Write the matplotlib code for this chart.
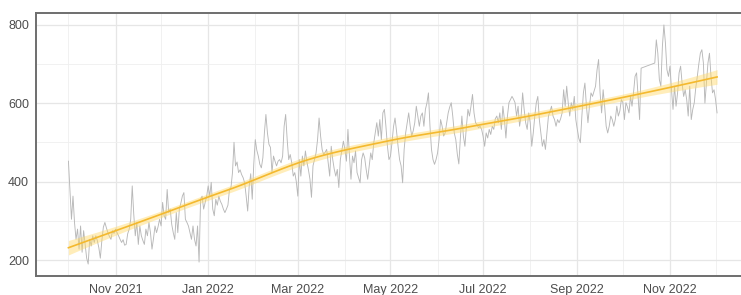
import numpy as np
import pandas as pd
import matplotlib
matplotlib.use("Agg")
import matplotlib.pyplot as plt
import matplotlib.dates as mdates
from matplotlib.ticker import MultipleLocator

plt.rcParams['font.family'] = ['Liberation Sans', 'DejaVu Sans']

START = "2021-10-01"
nan = np.nan
oct21 = [452, 380, 304, 363, 296, 253, 279, 228, 287, 220, 275, 240, 205, 190, 253, 236,
         262, 245, 262, 250, 232, 205, 250, 284, 296, 282, 270, 260, 253, 275, 268]
nov21 = [279, 270, 262, 253, 245, 252, 238, 240, 267, 279, 304, 389, 317, 262, 296, 240,
         287, 262, 250, 240, 279, 262, 296, 270, 228, 255, 287, 270, 285, 304]
dec21 = [287, 347, 313, 304, 380, 321, 330, 291, 270, 253, 321, 270, 330, 345, 363, 372,
         304, 296, 287, 270, 253, 287, 253, 236, 287, 195, 355, 363, 330, 347, 363]
jan22 = [389, 363, 398, 330, 313, 355, 340, 363, 350, 342, 330, 321, 330, 340, 380, 385,
         423, 500, 440, 450, 423, 430, 418, 410, 397, 363, 325, 389, 420, 355, 444]
feb22 = [507, 480, 465, 444, 435, 461, 524, 571, 524, 495, 487, 423, 465, 452, 440, 452,
         456, 448, 465, 541, 571, 507, 456, 469, 448, 414, 423, 400]
mar22 = [363, 456, 414, 465, 440, 478, 450, 430, 406, 360, 440, 456, 473, 507, 562, 516,
         482, 469, 475, 482, 448, 414, 490, 456, 431, 414, 431, 385, 456, 480, 503]
apr22 = [482, 452, 533, 465, 406, 465, 448, 478, 423, 410, 397, 456, 473, 461, 431, 406,
         440, 473, 456, 499, 524, 550, 516, 558, 507, 575, 584, 541, 490, 456]
may22 = [465, 499, 540, 562, 528, 490, 456, 440, 397, 482, 524, 550, 575, 541, 516, 530,
         550, 592, 567, 541, 567, 575, 541, 584, 600, 626, 541, 482, 456, 444, 456]
jun22 = [473, 507, 558, 541, 516, 524, 550, 575, 590, 601, 567, 524, 507, 470, 445, 510,
         567, 516, 490, 541, 584, 567, 592, 622, 575, 550, 545, 537, 541, 533]
jul22 = [515, 490, 524, 511, 533, 520, 541, 533, 560, 567, 550, 575, 533, 592, 558, 511,
         567, 601, 609, 617, 610, 601, 567, 592, 541, 567, 626, 584, 550, 533, 575]
aug22 = [550, 490, 524, 567, 601, 617, 558, 524, 490, 507, 482, 524, 567, 579, 592, 567,
         558, 541, 558, 550, 560, 575, 634, 592, 643, 601, 567, 601, 584, 617, 558]
sep22 = [533, 510, 499, 567, 626, 651, 592, 550, 592, 626, 617, 630, 643, 685, 711, 626,
         575, 634, 592, 541, 524, 541, 567, 558, 541, 558, 592, 567, 580, 609]
oct22 = [601, 558, 601, 590, 575, 617, 592, 626, 668, 677, 617, 558, 689,
         nan, nan, nan, nan, nan, nan, nan, nan,
         702, 761, 727, 660, 643, 744, 799, 753, 685, 668]
nov22 = [694, 634, 584, 643, 592, 626, 677, 694, 650, 617, 634, 609, 567, 643, 558, 584,
         601, 640, 668, 700, 727, 736, 702, 600, 651, 702, 727, 668, 626, 634]
dec22 = [609, 575]

values = np.array(oct21 + nov21 + dec21 + jan22 + feb22 + mar22 + apr22 + may22 +
                  jun22 + jul22 + aug22 + sep22 + oct22 + nov22 + dec22, dtype=float)
dates = pd.date_range(START, periods=len(values), freq="D")
mask = ~np.isnan(values)
d = dates[mask]
y = values[mask]
x = mdates.date2num(d)


# ---- loess (span 0.75, degree 2) with kd-tree vertex + cubic Hermite interpolation, like R ----
def local_rows(x, x0, span=0.75):
    n = len(x)
    q = int(np.floor(n * span))
    dist = np.abs(x - x0)
    h = np.sort(dist)[q - 1]
    u = np.clip(dist / h, 0, 1)
    w = (1 - u ** 3) ** 3
    dx = x - x0
    X = np.column_stack([np.ones(n), dx, dx ** 2])
    XtW = X.T * w
    B = np.linalg.solve(XtW @ X, XtW)
    return B[0], B[1]


def build_vertices(xsorted, fc):
    lo_, hi_ = xsorted[0], xsorted[-1]
    t = 0.005 * (hi_ - lo_)
    verts = {lo_ - t, hi_ + t}

    def split(pts):
        if len(pts) <= fc:
            return
        m = np.median(pts)
        verts.add(m)
        split(pts[pts <= m])
        split(pts[pts > m])
    split(xsorted)
    return np.array(sorted(verts))


n = len(x)
fc = int(np.floor(n * 0.75 * 0.2))
verts = build_vertices(np.sort(x), fc)
V0, V1 = [], []
for v in verts:
    a, b = local_rows(x, v)
    V0.append(a)
    V1.append(b)
V0, V1 = np.array(V0), np.array(V1)


def interp_rows(xq):
    rows = []
    for x0 in xq:
        k = np.searchsorted(verts, x0) - 1
        k = min(max(k, 0), len(verts) - 2)
        h = verts[k + 1] - verts[k]
        t = (x0 - verts[k]) / h
        h00 = 2 * t ** 3 - 3 * t ** 2 + 1
        h10 = t ** 3 - 2 * t ** 2 + t
        h01 = -2 * t ** 3 + 3 * t ** 2
        h11 = t ** 3 - t ** 2
        rows.append(h00 * V0[k] + h10 * h * V1[k] + h01 * V0[k + 1] + h11 * h * V1[k + 1])
    return np.array(rows)


L = interp_rows(x)
res = y - L @ y
IL = np.eye(n) - L
delta1 = np.trace(IL.T @ IL)
sigma = np.sqrt(np.sum(res ** 2) / delta1)

xs = np.linspace(x.min(), x.max(), 80)
Ls = interp_rows(xs)
fit = Ls @ y
se = sigma * np.sqrt(np.sum(Ls ** 2, axis=1))
lo = fit - 1.97 * se
hi = fit + 1.97 * se

W, H = 741, 295
fig = plt.figure(figsize=(W / 100, H / 100), dpi=100)
left, right, top, bottom = 36, 749.5, 13, 276
ax = fig.add_axes([left / W, 1 - bottom / H, (right - left) / W, (bottom - top) / H])
ax.set_facecolor('white')

ax.plot(d, y, color='#b8b8b8', lw=0.65, zorder=3)
ax.fill_between(mdates.num2date(xs), lo, hi, color='#FFD966', alpha=0.45, lw=0, zorder=4)
ax.plot(mdates.num2date(xs), fit, color='#F4B92E', lw=1.2, zorder=5)

xr = x.max() - x.min()
ax.set_xlim(x.min() - 0.05 * xr, x.max() + 0.05 * xr)
ymin = min(y.min(), lo.min())
ymax = max(y.max(), hi.max())
yr = ymax - ymin
ax.set_ylim(ymin - 0.05 * yr, ymax + 0.05 * yr)

ax.xaxis.set_major_locator(mdates.MonthLocator(bymonth=[1, 3, 5, 7, 9, 11]))
ax.xaxis.set_minor_locator(mdates.MonthLocator(bymonth=[2, 4, 6, 8, 10, 12]))
ax.xaxis.set_major_formatter(mdates.DateFormatter('%b %Y'))
ax.yaxis.set_major_locator(MultipleLocator(200))
ax.yaxis.set_minor_locator(MultipleLocator(100))

ax.grid(which='major', color='#e6e6e6', lw=0.9, zorder=0)
ax.grid(which='minor', color='#efefef', lw=0.6, zorder=0)
ax.set_axisbelow(True)

ax.tick_params(which='both', length=0, labelsize=9, labelcolor='#4d4d4d')
ax.tick_params(axis='x', pad=6)
ax.tick_params(axis='y', pad=5)

for s in ax.spines.values():
    s.set_color('#6e6e6e')
    s.set_linewidth(1.4)

fig.savefig('out.png', dpi=100)
